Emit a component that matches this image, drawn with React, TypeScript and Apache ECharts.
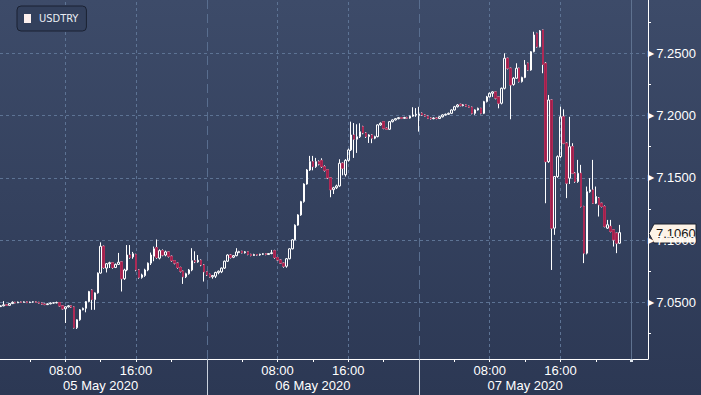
import React, { useEffect, useRef } from "react";
import * as echarts from "echarts";

// ---- data -------------------------------------------------------------
const SERIES_NAME = "USDTRY";
// bar times are hours after 05 May 2020 00:00, one bar every 20 minutes
const FIRST_BAR_HOUR = 2 / 3;
const BAR_STEP_HOURS = 1 / 3;
const X_MIN = 0.611;
const X_MAX = 73.898;
const Y_MIN = 7.0045;
const Y_MAX = 7.2928;
const Y_MAJOR = [7.05, 7.1, 7.15, 7.2, 7.25];
const Y_MINOR = [7.025, 7.075, 7.125, 7.175, 7.225, 7.275];
const X_MINOR_TICKS = [4, 8, 12, 16, 20, 28, 32, 36, 40, 44, 52, 56, 60, 64, 68];
const X_TIME_LABELS = [8, 16, 32, 40, 56, 64];
const DAY_STARTS = [24, 48];
const DAY_MIDS = [12, 36, 60];
const DAY_NAMES = ["05 May 2020", "06 May 2020", "07 May 2020"];
const NOW_LINE = 72;
const LAST_PRICE = 7.106;

// [open, close, low, high]
const usdtryOHLC: number[][] = [
  [7.0466, 7.0472, 7.0462, 7.0476], [7.0472, 7.048, 7.0468, 7.051], [7.048, 7.0476, 7.0472, 7.0486],
  [7.0476, 7.049, 7.0474, 7.0494], [7.049, 7.05, 7.0486, 7.0508], [7.05, 7.0496, 7.0492, 7.0504],
  [7.0496, 7.0502, 7.0494, 7.0506], [7.0502, 7.05, 7.0496, 7.0506], [7.05, 7.0504, 7.0498, 7.0508],
  [7.0504, 7.0498, 7.0494, 7.0508], [7.0498, 7.0502, 7.0494, 7.0506], [7.0502, 7.0504, 7.0498, 7.0508],
  [7.0504, 7.05, 7.0496, 7.051], [7.05, 7.0494, 7.049, 7.0504], [7.0494, 7.0486, 7.0482, 7.0498],
  [7.0486, 7.0482, 7.0478, 7.049], [7.0482, 7.0488, 7.0478, 7.0492], [7.0488, 7.0494, 7.0484, 7.0498],
  [7.0494, 7.0496, 7.049, 7.05], [7.0496, 7.0498, 7.0492, 7.0506],
  [7.0498, 7.0472, 7.0466, 7.0502], [7.0472, 7.0448, 7.0442, 7.0478], [7.0448, 7.0464, 7.0334, 7.0468],
  [7.0464, 7.0472, 7.0458, 7.0478], [7.0472, 7.0462, 7.0456, 7.0476], [7.0462, 7.0296, 7.029, 7.0466],
  [7.0296, 7.036, 7.0286, 7.0364], [7.036, 7.044, 7.0352, 7.0446], [7.044, 7.0452, 7.0436, 7.0458],
  [7.0452, 7.0506, 7.042, 7.051], [7.0506, 7.0587, 7.05, 7.0592], [7.0598, 7.0522, 7.044, 7.0604],
  [7.0522, 7.0576, 7.044, 7.058], [7.0576, 7.0735, 7.057, 7.074], [7.0735, 7.095, 7.073, 7.0982],
  [7.095, 7.078, 7.077, 7.0956], [7.0775, 7.081, 7.074, 7.0816], [7.081, 7.0818, 7.0776, 7.0826],
  [7.0818, 7.078, 7.077, 7.0822], [7.078, 7.0805, 7.0775, 7.0812], [7.0805, 7.0822, 7.08, 7.0897],
  [7.0825, 7.069, 7.0587, 7.083], [7.069, 7.076, 7.068, 7.077], [7.076, 7.088, 7.075, 7.096],
  [7.088, 7.086, 7.085, 7.096], [7.0865, 7.089, 7.085, 7.0905], [7.0885, 7.076, 7.075, 7.089],
  [7.076, 7.07, 7.069, 7.0765], [7.07, 7.072, 7.069, 7.073], [7.0715, 7.076, 7.0705, 7.077],
  [7.076, 7.0815, 7.075, 7.082], [7.0815, 7.088, 7.08, 7.09], [7.087, 7.093, 7.083, 7.0948],
  [7.094, 7.086, 7.085, 7.1005], [7.0855, 7.0915, 7.0845, 7.0925], [7.0915, 7.088, 7.087, 7.0925],
  [7.088, 7.0905, 7.087, 7.0915], [7.0905, 7.087, 7.086, 7.0912], [7.087, 7.0835, 7.0826, 7.0876],
  [7.0835, 7.0815, 7.0805, 7.084], [7.0815, 7.078, 7.077, 7.082], [7.078, 7.075, 7.074, 7.0786],
  [7.075, 7.0705, 7.0648, 7.0755], [7.0705, 7.073, 7.0695, 7.0738], [7.073, 7.076, 7.0722, 7.0768],
  [7.076, 7.0835, 7.075, 7.0935], [7.0835, 7.0825, 7.0815, 7.091], [7.0825, 7.0838, 7.0818, 7.088],
  [7.0838, 7.08, 7.079, 7.0845], [7.08, 7.0745, 7.0667, 7.0806], [7.0745, 7.072, 7.0712, 7.075],
  [7.0725, 7.0705, 7.07, 7.073], [7.0705, 7.0715, 7.069, 7.072], [7.071, 7.074, 7.0695, 7.0746],
  [7.0738, 7.075, 7.0725, 7.0756], [7.0745, 7.0775, 7.0735, 7.078], [7.0775, 7.083, 7.0768, 7.0836],
  [7.083, 7.088, 7.0825, 7.0886], [7.088, 7.086, 7.0852, 7.0888], [7.0862, 7.0875, 7.0855, 7.088],
  [7.0875, 7.0905, 7.087, 7.0935], [7.09, 7.0908, 7.0895, 7.0914], [7.091, 7.0898, 7.0893, 7.0914],
  [7.0898, 7.0906, 7.0892, 7.0912], [7.0906, 7.0885, 7.0878, 7.091], [7.0885, 7.0876, 7.087, 7.089],
  [7.0876, 7.0884, 7.0872, 7.089], [7.0884, 7.088, 7.0875, 7.0888], [7.088, 7.0886, 7.0874, 7.089],
  [7.0886, 7.089, 7.088, 7.0895], [7.089, 7.0884, 7.0878, 7.0894], [7.0884, 7.0892, 7.088, 7.0896],
  [7.0892, 7.0898, 7.0886, 7.0921], [7.0915, 7.086, 7.085, 7.0922], [7.086, 7.084, 7.0832, 7.0865],
  [7.084, 7.0815, 7.0808, 7.0845], [7.0815, 7.079, 7.0778, 7.082], [7.079, 7.085, 7.0778, 7.0856],
  [7.085, 7.093, 7.0845, 7.0935], [7.093, 7.1002, 7.0925, 7.1008], [7.1002, 7.112, 7.0998, 7.1126],
  [7.112, 7.1202, 7.1115, 7.1208], [7.1202, 7.1309, 7.1195, 7.1315], [7.1309, 7.145, 7.13, 7.1456],
  [7.145, 7.1563, 7.1445, 7.157], [7.1563, 7.163, 7.1555, 7.1676], [7.163, 7.159, 7.156, 7.1676],
  [7.159, 7.163, 7.158, 7.166], [7.163, 7.161, 7.16, 7.164], [7.164, 7.159, 7.158, 7.1657],
  [7.159, 7.156, 7.155, 7.16], [7.1565, 7.15, 7.149, 7.157], [7.15, 7.1405, 7.1344, 7.1506],
  [7.1405, 7.142, 7.137, 7.1428], [7.142, 7.1435, 7.141, 7.1445], [7.1435, 7.1617, 7.1428, 7.1649],
  [7.1617, 7.1577, 7.152, 7.1625], [7.1525, 7.164, 7.151, 7.165], [7.164, 7.1724, 7.163, 7.1735],
  [7.1724, 7.1844, 7.1715, 7.1951], [7.1844, 7.181, 7.166, 7.194], [7.181, 7.183, 7.17, 7.193],
  [7.183, 7.187, 7.182, 7.1938], [7.1911, 7.186, 7.185, 7.1918], [7.186, 7.1831, 7.182, 7.1866],
  [7.1831, 7.1844, 7.178, 7.185], [7.1844, 7.1818, 7.1778, 7.185], [7.1818, 7.1831, 7.181, 7.1838],
  [7.1831, 7.1925, 7.1825, 7.193], [7.1925, 7.1938, 7.1918, 7.1945], [7.1951, 7.1898, 7.189, 7.1956],
  [7.1898, 7.189, 7.1884, 7.1904], [7.189, 7.1951, 7.1885, 7.1956], [7.1951, 7.1965, 7.1945, 7.197],
  [7.1965, 7.1975, 7.196, 7.198], [7.1975, 7.1983, 7.197, 7.1988], [7.1983, 7.1978, 7.1972, 7.1988],
  [7.1978, 7.1984, 7.1974, 7.199], [7.1984, 7.1979, 7.1974, 7.199], [7.198, 7.1995, 7.1975, 7.2],
  [7.1995, 7.2005, 7.199, 7.2067], [7.2005, 7.201, 7.199, 7.206], [7.2, 7.2012, 7.1871, 7.207],
  [7.2018, 7.2005, 7.1998, 7.2025], [7.2005, 7.1995, 7.199, 7.201], [7.1995, 7.1978, 7.1972, 7.2],
  [7.198, 7.1975, 7.1968, 7.1985], [7.1975, 7.198, 7.197, 7.1986], [7.198, 7.1976, 7.197, 7.1985],
  [7.1976, 7.199, 7.1972, 7.1995], [7.199, 7.2005, 7.1985, 7.201], [7.2005, 7.201, 7.2, 7.2016],
  [7.201, 7.2018, 7.2005, 7.2024], [7.2018, 7.2045, 7.2012, 7.205], [7.2045, 7.2071, 7.204, 7.2078],
  [7.2071, 7.2085, 7.2065, 7.2092], [7.209, 7.208, 7.2074, 7.2095], [7.208, 7.2086, 7.2074, 7.2092],
  [7.2086, 7.2075, 7.207, 7.209], [7.2075, 7.2067, 7.2062, 7.208], [7.2067, 7.2018, 7.201, 7.2072],
  [7.2018, 7.2045, 7.2006, 7.205], [7.2045, 7.2058, 7.204, 7.2064], [7.2058, 7.2018, 7.201, 7.2062],
  [7.2018, 7.2112, 7.2012, 7.2118], [7.2112, 7.215, 7.2105, 7.2158], [7.215, 7.2179, 7.2145, 7.2185],
  [7.2179, 7.219, 7.215, 7.2195], [7.219, 7.214, 7.213, 7.2195], [7.215, 7.2099, 7.2058, 7.2155],
  [7.2099, 7.2219, 7.209, 7.2225], [7.2219, 7.246, 7.221, 7.25], [7.246, 7.238, 7.237, 7.2465],
  [7.238, 7.2246, 7.197, 7.2385], [7.225, 7.23, 7.224, 7.231], [7.23, 7.238, 7.2295, 7.242],
  [7.238, 7.2273, 7.2265, 7.2385], [7.2273, 7.2306, 7.2265, 7.2312], [7.2306, 7.2406, 7.23, 7.2446],
  [7.242, 7.2366, 7.236, 7.2425], [7.2366, 7.2513, 7.236, 7.2518], [7.2513, 7.2647, 7.2508, 7.2673],
  [7.266, 7.2553, 7.2545, 7.2665], [7.2553, 7.268, 7.2548, 7.2687], [7.2687, 7.241, 7.234, 7.269],
  [7.242, 7.163, 7.1296, 7.243], [7.163, 7.2125, 7.162, 7.2165], [7.2125, 7.1096, 7.076, 7.213],
  [7.1096, 7.151, 7.1042, 7.1515], [7.151, 7.167, 7.15, 7.168], [7.167, 7.199, 7.166, 7.2071],
  [7.199, 7.1778, 7.177, 7.205], [7.1778, 7.1457, 7.1337, 7.1785], [7.1497, 7.175, 7.145, 7.199],
  [7.175, 7.1537, 7.153, 7.1778], [7.1537, 7.147, 7.146, 7.1545], [7.147, 7.1537, 7.146, 7.1644],
  [7.1537, 7.127, 7.1262, 7.1604], [7.127, 7.0895, 7.0815, 7.1275], [7.0895, 7.1389, 7.0885, 7.143],
  [7.1389, 7.1403, 7.138, 7.1497], [7.1403, 7.1296, 7.129, 7.1644], [7.1296, 7.135, 7.129, 7.143],
  [7.1337, 7.1283, 7.1189, 7.1345], [7.1296, 7.127, 7.1262, 7.13], [7.127, 7.111, 7.1102, 7.1278],
  [7.1096, 7.1123, 7.109, 7.1162], [7.111, 7.107, 7.1062, 7.1162], [7.1082, 7.1002, 7.0948, 7.1086],
  [7.1056, 7.0975, 7.0895, 7.106], [7.0975, 7.106, 7.097, 7.1122],
];

const barHours = usdtryOHLC.map((_, i) => FIRST_BAR_HOUR + i * BAR_STEP_HOURS);

// ---- styling ---------------------------------------------------------
const FONT = '"Liberation Sans", Arial, sans-serif';
const WHITE = "#ffffff";
const GRID_DASH = { color: "#5d7394", width: 1, type: [3, 3] as number[] };
const DAY_DASH = { color: "#596e8f", width: 1, type: [9, 5] as number[] };
const NOW_STYLE = { color: "#5f7290", width: 1, type: "solid" as const };

const pad2 = (n: number) => (n < 10 ? "0" + n : String(n));

export default function App() {
  const ref = useRef<HTMLDivElement>(null);

  useEffect(() => {
    if (!ref.current) return;
    const chart = echarts.init(ref.current, undefined, { renderer: "svg" });

    const candleData = usdtryOHLC.map((d, i) => [barHours[i], d[0], d[1], d[2], d[3]]);
    const downBodies = usdtryOHLC
      .map((d, i) => ({ d, i }))
      .filter(({ d }) => d[1] < d[0])
      .map(({ d, i }) => [barHours[i], d[0], d[1], d[1], d[0]]);

    const xBase: any = {
      type: "value",
      min: X_MIN,
      max: X_MAX,
      position: "bottom",
      offset: 0,
      splitLine: { show: false },
      axisLine: { show: false },
      axisTick: { show: false },
      axisLabel: { show: false },
    };

    chart.setOption({
      animation: false,
      backgroundColor: "transparent",
      grid: {
        left: 0,
        right: 53,
        top: 0,
        bottom: 36,
        containLabel: false,
        outerBoundsMode: "none",
      },
      legend: {
        left: 17,
        top: 6,
        selectedMode: false,
        padding: [7, 8, 7, 7],
        backgroundColor: "#33405c",
        borderColor: "#1a2132",
        borderWidth: 1,
        borderRadius: 4,
        itemWidth: 7,
        itemHeight: 9,
        itemGap: 4,
        data: [
          {
            name: SERIES_NAME,
            icon: "rect",
            itemStyle: { color: "#fdf1ef", borderWidth: 0 },
          },
        ],
        textStyle: {
          color: "#e9edf3",
          fontSize: 11,
          fontFamily: '"Liberation Sans Narrow", "DejaVu Sans Condensed", ' + FONT,
          padding: [0, 0, 0, 3],
        },
      },
      xAxis: [
        {
          ...xBase,
          axisLine: { show: true, lineStyle: { color: WHITE, width: 1 } },
          axisTick: {
            show: true,
            customValues: X_MINOR_TICKS,
            length: 3,
            lineStyle: { color: WHITE, width: 1 },
          },
          axisLabel: {
            show: true,
            customValues: X_TIME_LABELS,
            margin: 3,
            color: WHITE,
            fontSize: 13,
            fontFamily: FONT,
            lineHeight: 16,
            formatter: (v: number) => pad2(Math.round(v) % 24) + ":00",
          },
        },
        {
          ...xBase,
          axisTick: {
            show: true,
            customValues: DAY_STARTS,
            length: 36,
            lineStyle: { color: "#c9d1dd", width: 1 },
          },
          axisLabel: {
            show: true,
            customValues: DAY_MIDS,
            margin: 18,
            color: WHITE,
            fontSize: 13,
            fontFamily: FONT,
            lineHeight: 16,
            formatter: (v: number) => DAY_NAMES[Math.floor(v / 24)],
          },
        },
        {
          ...xBase,
          axisTick: {
            show: true,
            customValues: [NOW_LINE],
            length: 3,
            lineStyle: { color: "#dfe6ef", width: 3 },
          },
        },
      ],
      yAxis: {
        type: "value",
        position: "right",
        min: Y_MIN,
        max: Y_MAX,
        scale: true,
        splitLine: { show: false },
        axisLine: { show: true, lineStyle: { color: WHITE, width: 1 } },
        axisTick: {
          show: true,
          customValues: Y_MINOR,
          length: 3,
          lineStyle: { color: WHITE, width: 1 },
        },
        axisLabel: {
          show: true,
          customValues: Y_MAJOR,
          margin: 0,
          formatter: (v: number) => "{t|\u25B6}{v|" + v.toFixed(4) + "}",
          rich: {
            t: { fontFamily: '"DejaVu Sans"', fontSize: 8, color: WHITE, padding: [0, 2, 0, 0] },
            v: { fontFamily: FONT, fontSize: 13, color: WHITE },
          },
        },
      },
      series: [
        {
          name: SERIES_NAME,
          type: "candlestick",
          xAxisIndex: 0,
          yAxisIndex: 0,
          data: candleData,
          encode: { x: 0, y: [1, 2, 3, 4] },
          barWidth: 2,
          z: 2,
          itemStyle: {
            color: "rgba(0,0,0,0)",
            color0: "rgba(0,0,0,0)",
            borderColor: WHITE,
            borderColor0: WHITE,
            borderColorDoji: WHITE,
            borderWidth: 1,
          },
          markLine: {
            silent: true,
            symbol: "none",
            z: 1,
            animation: false,
            label: { show: false },
            emphasis: { disabled: true },
            data: [
              ...Y_MAJOR.map((v) => ({ yAxis: v, lineStyle: GRID_DASH })),
              ...X_TIME_LABELS.map((v) => ({ xAxis: v, lineStyle: GRID_DASH })),
              ...DAY_STARTS.map((v) => ({ xAxis: v, lineStyle: DAY_DASH })),
              { xAxis: NOW_LINE, lineStyle: NOW_STYLE },
            ],
          },
        },
        {
          name: SERIES_NAME + " down",
          type: "candlestick",
          xAxisIndex: 0,
          yAxisIndex: 0,
          data: downBodies,
          encode: { x: 0, y: [1, 2, 3, 4] },
          barWidth: 2,
          z: 3,
          itemStyle: {
            color: "#a01f4b",
            color0: "#a01f4b",
            borderColor: "#ad2a56",
            borderColor0: "#ad2a56",
            borderWidth: 1,
          },
        },
      ],
    });

    const p = chart.convertToPixel({ gridIndex: 0 }, [X_MAX, LAST_PRICE]) as number[];
    if (p && isFinite(p[0]) && isFinite(p[1])) {
      chart.setOption({
        graphic: [
          {
            type: "group",
            x: Math.round(p[0]),
            y: Math.round(p[1]) + 0.5,
            z: 100,
            children: [
              {
                type: "polygon",
                shape: {
                  points: [
                    [1, 0],
                    [6, -9.5],
                    [48, -9.5],
                    [48, 9.5],
                    [6, 9.5],
                  ],
                },
                style: { fill: "#fdf3e7", stroke: "#1c2231", lineWidth: 1 },
              },
              {
                type: "text",
                x: 8,
                y: 0,
                style: {
                  text: LAST_PRICE.toFixed(4),
                  fill: "#141414",
                  font: '13px "Liberation Sans", Arial, sans-serif',
                  verticalAlign: "middle",
                },
              },
            ],
          },
        ],
      });
    }

    return () => chart.dispose();
  }, []);

  return (
    <div
      style={{
        position: "fixed",
        left: 0,
        top: 0,
        width: 701,
        height: 395,
        background: "linear-gradient(180deg, #3d4b69 0%, #2c3854 100%)",
      }}
    >
      <div ref={ref} style={{ width: 701, height: 395 }} />
    </div>
  );
}
